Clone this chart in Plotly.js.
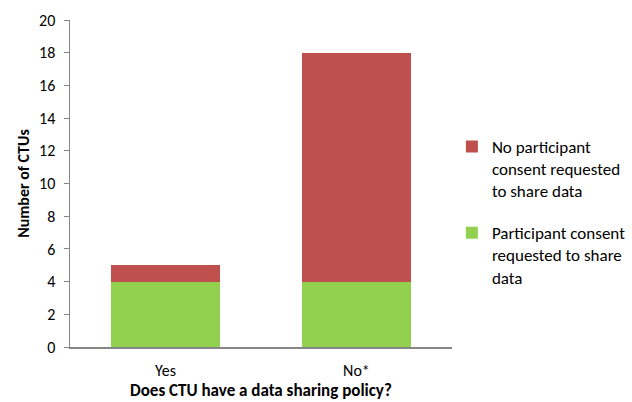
<!DOCTYPE html>
<html>
<head>
<meta charset="utf-8">
<script src="https://cdn.plot.ly/plotly-3.0.1.min.js"></script>
<style>html,body{margin:0;padding:0;background:#fff;}#chart{width:632px;height:402px;}</style>
</head>
<body>
<div id="chart"></div>
<script>
const categories = ["Yes", "No*"];
const consentRequested = [4, 4];
const noConsentRequested = [1, 14];
const seriesNames = ["Participant consent<br>requested to share<br>data", "No participant<br>consent requested<br>to share data"];
const yTicks = [0, 2, 4, 6, 8, 10, 12, 14, 16, 18, 20];
const xTitle = "Does CTU have a data sharing policy?";
const yTitle = "Number of CTUs";

const FONT = "Carlito, Lato, 'Open Sans', sans-serif";

const traces = [
  {type: "bar", x: categories, y: consentRequested, name: seriesNames[0], legendgroup: "g1", legendrank: 2,
   marker: {color: "#92D050"}},
  {type: "bar", x: categories, y: noConsentRequested, name: seriesNames[1], legendgroup: "g2", legendrank: 1,
   marker: {color: "#C0504D"}}
];

const layout = {
  width: 632, height: 402,
  margin: {l: 70, r: 179, t: 20, b: 55},
  barmode: "stack",
  bargap: 0.43,
  paper_bgcolor: "#fff", plot_bgcolor: "#fff",
  font: {family: FONT, size: 16, color: "#000"},
  showlegend: true,
  legend: {xref: "container", yref: "container", x: 0.715, xanchor: "left", y: 0.473, yanchor: "middle",
           traceorder: "grouped", valign: "top", tracegroupgap: 17,
           font: {family: FONT, size: 17, color: "#000"}, itemwidth: 30},
  xaxis: {
    showline: true, linecolor: "#868686", linewidth: 1.5,
    ticks: "", showgrid: false, zeroline: false,
    ticklabelstandoff: 8,
    tickfont: {family: FONT, size: 16}
  },
  yaxis: {
    range: [0, 20], tickvals: yTicks, showline: true, linecolor: "#868686", linewidth: 1.5,
    ticks: "outside", ticklen: 5, tickcolor: "#868686", showgrid: false, zeroline: false,
    ticklabelstandoff: 5,
    tickfont: {family: FONT, size: 16},
    title: {text: "<b>" + yTitle + "</b>", font: {family: FONT, size: 16}, standoff: 5}
  },
  annotations: [{
    text: "<b>" + xTitle + "</b>", xref: "paper", yref: "paper", x: 0.5, y: 0,
    xanchor: "center", yanchor: "middle", yshift: -43, showarrow: false,
    font: {family: FONT, size: 17, color: "#000"}
  }]
};

Plotly.newPlot("chart", traces, layout, {displayModeBar: false, staticPlot: true});
</script>
</body>
</html>
